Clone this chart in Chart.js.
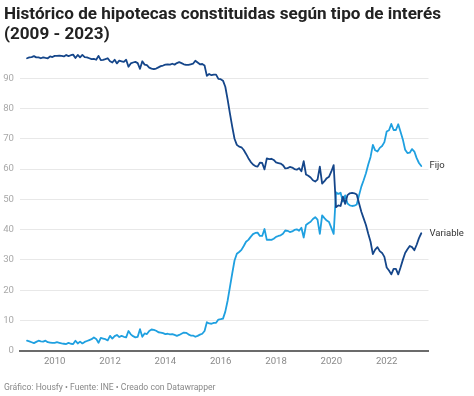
<!DOCTYPE html>
<html lang="es">
<head>
<meta charset="utf-8">
<title>Histórico de hipotecas constituidas según tipo de interés</title>
<script src="https://cdn.jsdelivr.net/npm/chart.js@4/dist/chart.umd.min.js"></script>
<style>
  html, body { margin: 0; padding: 0; background: #fff; }
  body { width: 474px; height: 396px; position: relative; overflow: hidden; font-family: Roboto, "Noto Sans", sans-serif; }
  #grafico { position: absolute; left: 0; top: 0; }
  #titulo { position: absolute; left: 4px; top: 4px; font-size: 17.1px; line-height: 19.5px; font-weight: 700; color: #222; white-space: nowrap; }
  #pie { position: absolute; left: 4px; top: 381px; font-size: 8.6px; line-height: 12px; color: #888; white-space: nowrap; }
</style>
</head>
<body>
<canvas id="grafico" width="474" height="396"></canvas>
<div id="titulo">Histórico de hipotecas constituidas según tipo de interés<br>(2009 - 2023)</div>
<div id="pie">Gráfico: Housfy • Fuente: INE • Creado con Datawrapper</div>

<script>
// Datos mensuales (% sobre el total), enero 2009 – abril 2023
const ANIO_INICIO = 2009;

const variable = [
  96.6, 96.9, 97.0, 97.3, 96.9, 96.9, 96.6, 96.9, 96.7, 96.6, 97.2, 97.0,  // 2009
  97.4, 97.4, 97.5, 97.4, 97.2, 97.7, 97.3, 97.6, 97.8, 96.7, 97.7, 96.9,  // 2010
  97.7, 97.0, 96.9, 96.6, 96.3, 96.4, 96.1, 97.4, 96.0, 96.1, 96.3, 96.6,  // 2011
  95.6, 95.2, 96.1, 94.9, 95.8, 95.6, 95.4, 96.1, 93.8, 94.9, 95.2, 95.4,  // 2012
  95.0, 93.1, 95.6, 94.5, 94.3, 93.5, 93.2, 93.0, 93.2, 93.6, 94.0, 94.2,  // 2013
  94.5, 94.6, 94.5, 94.8, 94.5, 95.0, 95.3, 95.0, 94.6, 94.4, 94.4, 94.6,  // 2014
  94.8, 95.8, 95.2, 94.6, 94.7, 94.2, 90.8, 91.4, 91.0, 91.2, 91.2, 89.8,  // 2015
  89.7, 89.2, 87.2, 83.0, 78.4, 74.0, 70.0, 68.0, 67.4, 67.2, 66.3, 65.0,  // 2016
  63.6, 62.4, 61.5, 61.0, 60.8, 62.1, 62.0, 59.9, 63.5, 63.3, 63.4, 63.0,  // 2017
  62.2, 62.0, 61.8, 61.3, 60.2, 60.3, 60.7, 60.5, 60.0, 59.8, 60.3, 59.3,  // 2018
  62.6, 58.2, 57.8, 57.2, 56.3, 55.9, 56.5, 60.8, 55.2, 56.0, 57.0, 57.5,  // 2019
  59.2, 61.3, 47.4, 48.0, 47.8, 50.9, 48.5, 51.4, 52.0, 52.1, 52.0, 51.6,  // 2020
  48.7, 45.9, 43.7, 41.5, 38.6, 36.0, 31.9, 33.4, 34.2, 32.9, 32.3, 31.0,  // 2021
  27.5, 26.5, 25.2, 27.0, 27.0, 25.2, 27.5, 30.0, 32.3, 33.5, 34.6, 34.2,  // 2022
  33.2, 35.0, 37.2, 38.8                                                   // 2023
];

const fijo = [
  3.3, 3.1, 2.8, 2.5, 2.9, 3.3, 3.1, 3.0, 3.3, 2.8, 2.7, 2.6,              // 2009
  2.6, 2.8, 2.6, 2.4, 2.3, 2.2, 2.6, 2.3, 2.2, 3.3, 2.4, 3.0,              // 2010
  2.4, 2.9, 3.2, 3.5, 3.8, 4.4, 3.9, 2.6, 4.2, 4.0, 3.8, 3.4,              // 2011
  4.9, 4.0, 4.8, 5.2, 4.5, 4.9, 4.6, 4.4, 6.5, 5.4, 4.8, 4.4,              // 2012
  4.6, 7.1, 4.6, 5.7, 5.5, 6.5, 7.0, 6.9, 6.6, 6.1, 6.0, 5.8,              // 2013
  5.5, 5.6, 5.4, 5.5, 5.2, 4.9, 5.2, 5.6, 6.0, 5.9, 5.4, 5.0,              // 2014
  5.0, 4.6, 4.9, 5.3, 5.6, 6.5, 9.4, 9.0, 8.9, 9.2, 9.2, 10.3,             // 2015
  10.4, 10.6, 12.9, 16.5, 21.0, 25.5, 29.8, 32.0, 32.6, 33.3, 34.6, 36.0,  // 2016
  36.6, 37.6, 38.5, 38.9, 39.0, 37.9, 37.9, 40.2, 36.6, 36.7, 36.6, 37.0,  // 2017
  37.6, 37.9, 38.1, 38.6, 39.7, 39.6, 39.2, 39.4, 39.9, 40.1, 39.6, 40.6,  // 2018
  37.4, 41.5, 42.1, 42.6, 43.5, 44.1, 43.3, 38.6, 44.7, 43.8, 43.0, 42.5,  // 2019
  40.6, 38.6, 52.3, 51.8, 52.2, 49.3, 51.3, 48.6, 48.0, 47.8, 47.9, 48.3,  // 2020
  51.3, 54.2, 56.3, 58.6, 61.5, 64.0, 68.0, 66.2, 65.8, 67.0, 67.6, 68.9,  // 2021
  72.4, 72.8, 74.9, 72.9, 72.9, 74.8, 72.3, 69.8, 66.4, 65.3, 65.4, 66.6,  // 2022
  65.8, 63.6, 62.0, 61.0                                                   // 2023
];

const aniosEje = [2010, 2012, 2014, 2016, 2018, 2020, 2022];
const ticksY   = [0, 10, 20, 30, 40, 50, 60, 70, 80, 90];

// ─────────────────────────────────────────────
// Helpers
// ─────────────────────────────────────────────

function aPuntos(valores) {
  return valores.map((v, i) => ({ x: ANIO_INICIO + i / 12, y: v }));
}

// Etiqueta con el nombre de la serie al final de cada línea
const etiquetasFinales = {
  id: "etiquetasFinales",
  afterDatasetsDraw(chart) {
    const { ctx, chartArea, scales } = chart;
    ctx.save();
    ctx.font = "9.5px Roboto";
    ctx.fillStyle = "#333";
    ctx.textBaseline = "middle";
    chart.data.datasets.forEach(ds => {
      const ultimo = ds.data[ds.data.length - 1];
      ctx.fillText(ds.label, chartArea.right + 1, scales.y.getPixelForValue(ultimo.y));
    });
    ctx.restore();
  }
};

// ─────────────────────────────────────────────
// Chart
// ─────────────────────────────────────────────

const linea = { pointRadius: 0, borderWidth: 1.8, tension: 0,
                borderCapStyle: "round", borderJoinStyle: "round", fill: false };

new Chart(document.getElementById("grafico"), {
  type: "line",
  data: {
    datasets: [
      { ...linea, label: "Variable", data: aPuntos(variable), borderColor: "#15468a" },
      { ...linea, label: "Fijo",     data: aPuntos(fijo),     borderColor: "#1fa0e0" },
    ],
  },
  options: {
    responsive: false,
    animation: false,
    devicePixelRatio: 1,
    layout: { padding: { top: 51, right: 45.5, left: 0, bottom: 0 } },
    plugins: { legend: { display: false }, tooltip: { enabled: false } },
    scales: {
      x: {
        type: "linear",
        min: 2008.746,
        max: 2023.511,
        afterBuildTicks: axis => { axis.ticks = aniosEje.map(value => ({ value })); },
        afterFit: axis => { axis.height = 45.3; },
        grid: { display: false, drawTicks: false },
        border: { display: true, color: "#6b6b6b", width: 2 },
        ticks: {
          autoSkip: false, maxRotation: 0, padding: 5,
          color: "#8a8a8a", font: { family: "Roboto", size: 9.6 },
          callback: v => String(v),
        },
      },
      y: {
        min: 0,
        max: 99,
        afterBuildTicks: axis => { axis.ticks = ticksY.map(value => ({ value })); },
        afterFit: axis => { axis.width = 20; },
        grid: { color: "#e8e8e8", lineWidth: 1, drawTicks: false },
        border: { display: false },
        ticks: {
          padding: 6,
          color: "#a8a8a8", font: { family: "Roboto", size: 9.6 },
          callback: v => String(v),
        },
      },
    },
  },
  plugins: [etiquetasFinales],
});
</script>
</body>
</html>
